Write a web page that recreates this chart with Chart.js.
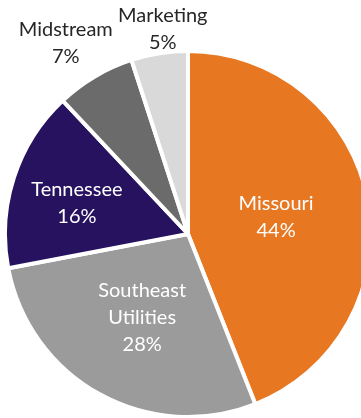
<!DOCTYPE html>
<html>
<head>
<meta charset="utf-8">
<script src="https://cdn.jsdelivr.net/npm/chart.js@4"></script>
<style>
  html, body { margin: 0; padding: 0; background: #fff; overflow: hidden; }
  #wrap { position: relative; width: 376px; height: 420px; }
</style>
</head>
<body>
<div id="wrap"><canvas id="segmentPie"></canvas></div>
<script>
const categories = ['Missouri', 'Southeast Utilities', 'Tennessee', 'Midstream', 'Marketing'];
const shares = [44, 28, 16, 7, 5];
const sliceColors = ['#E87722', '#9B9B9B', '#26125F', '#6B6B6B', '#D9D9D9'];

// where each label sits: fraction of the radius, small turn (degrees) off the slice middle
const labelRadius = [0.49, 0.52, 0.63, 1.24, 1.13];
const labelTurn = [0, 0, -2.5, -2, 2];
const labelColors = ['#ffffff', '#ffffff', '#ffffff', '#262626', '#262626'];

const labelPlugin = {
  id: 'sliceLabels',
  afterDatasetsDraw(chart) {
    const ctx = chart.ctx;
    const meta = chart.getDatasetMeta(0);
    ctx.save();
    ctx.font = '20px Lato';
    ctx.textAlign = 'center';
    ctx.textBaseline = 'middle';
    meta.data.forEach((arc, i) => {
      const p = arc.getProps(['x', 'y', 'startAngle', 'endAngle', 'outerRadius'], true);
      const mid = (p.startAngle + p.endAngle) / 2 + labelTurn[i] * Math.PI / 180;
      const r = p.outerRadius * labelRadius[i];
      const cx = p.x + Math.cos(mid) * r;
      const cy = p.y + Math.sin(mid) * r;
      let lines = [categories[i]];
      if (ctx.measureText(categories[i]).width > 120) lines = categories[i].split(' ');
      lines.push(shares[i] + '%');
      const lh = 27;
      const top = cy - (lines.length - 1) * lh / 2;
      ctx.fillStyle = labelColors[i];
      lines.forEach((t, k) => ctx.fillText(t, cx, top + k * lh));
    });
    ctx.restore();
  }
};

const ctx = document.getElementById('segmentPie').getContext('2d');
new Chart(ctx, {
  type: 'pie',
  data: {
    labels: categories,
    datasets: [{
      data: shares,
      backgroundColor: sliceColors,
      borderColor: '#ffffff',
      borderWidth: 4,
    }],
  },
  options: {
    responsive: true,
    maintainAspectRatio: false,
    animation: false,
    layout: { padding: { top: 49, bottom: 1, left: 3, right: 3 } },
    plugins: {
      legend: { display: false },
      tooltip: { enabled: false },
    }
  },
  plugins: [labelPlugin],
});
</script>
</body>
</html>
